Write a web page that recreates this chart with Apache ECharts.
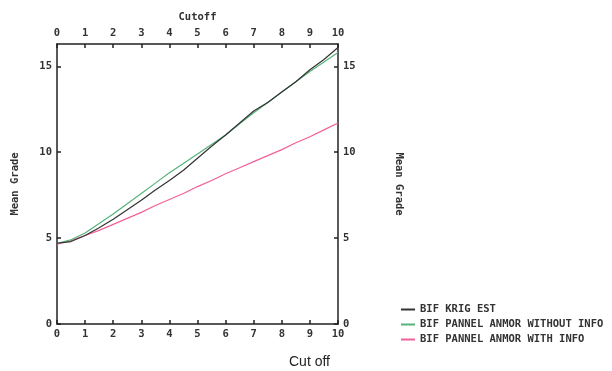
<!DOCTYPE html>
<html><head><meta charset="utf-8">
<script src="https://cdn.jsdelivr.net/npm/echarts@6/dist/echarts.min.js"></script>
<style>html,body{margin:0;padding:0;background:#fff}#c{width:612px;height:371px}</style>
</head><body><div id="c"></div>
<script>
const cutoff = [0,0.5,1,1.5,2,2.5,3,3.5,4,4.5,5,5.5,6,6.5,7,7.5,8,8.5,9,9.5,10];
const krigEst = [4.70,4.80,5.15,5.60,6.10,6.65,7.20,7.80,8.35,8.95,9.65,10.35,11.00,11.70,12.40,12.90,13.50,14.10,14.80,15.40,16.10];
const withoutInfo = [4.70,4.90,5.30,5.85,6.40,7.00,7.60,8.20,8.80,9.35,9.90,10.45,11.00,11.65,12.30,12.90,13.50,14.10,14.70,15.25,15.80];
const withInfo = [4.65,4.85,5.15,5.45,5.80,6.15,6.50,6.90,7.25,7.60,8.00,8.35,8.75,9.10,9.45,9.80,10.15,10.55,10.90,11.30,11.70];
const seriesNames = ['BIF KRIG EST','BIF PANNEL ANMOR WITHOUT INFO','BIF PANNEL ANMOR WITH INFO'];

const mono = 'DejaVu Sans Mono';
const txt = {fontFamily: mono, fontWeight: 'bold', fontSize: 10.5, color: '#333'};
const axLine = {show: true, onZero: false, lineStyle: {color: '#222', width: 1.5}};
const tick = {show: true, inside: true, length: 4, lineStyle: {color: '#222', width: 1.5}};

function pairs(ys){ return cutoff.map((x,i)=>[x, ys[i]]); }

const chart = echarts.init(document.getElementById('c'));
chart.setOption({
  animation: false,
  grid: {left: 57, right: 274, top: 44, bottom: 47},
  legend: {
    orient: 'vertical', left: 396, top: 299, itemGap: 4,
    itemWidth: 14, itemHeight: 2, icon: 'rect',
    textStyle: Object.assign({}, txt, {fontSize: 10.5}),
    data: seriesNames
  },
  xAxis: [
    {type: 'value', position: 'bottom', min: 0, max: 10, interval: 1,
     axisLine: axLine, axisTick: tick, splitLine: {show: false},
     axisLabel: Object.assign({margin: 5}, txt)},
    {type: 'value', position: 'top', min: 0, max: 10, interval: 1,
     name: 'Cutoff', nameLocation: 'middle', nameGap: 20,
     nameTextStyle: txt,
     axisLine: axLine, axisTick: tick, splitLine: {show: false},
     axisLabel: Object.assign({margin: 5}, txt)}
  ],
  yAxis: [
    {type: 'value', position: 'left', min: 0, max: 16.3, interval: 5,
     name: 'Mean Grade', nameLocation: 'middle', nameRotate: 90, nameGap: 36,
     nameTextStyle: txt,
     axisLine: axLine, axisTick: tick, splitLine: {show: false},
     axisLabel: Object.assign({margin: 5, showMaxLabel: false}, txt)},
    {type: 'value', position: 'right', min: 0, max: 16.3, interval: 5,
     name: 'Mean Grade', nameLocation: 'middle', nameRotate: -90, nameGap: 55,
     nameTextStyle: txt,
     axisLine: axLine, axisTick: tick, splitLine: {show: false},
     axisLabel: Object.assign({margin: 5, showMaxLabel: false}, txt)}
  ],
  graphic: [
    {type: 'text', left: 289, top: 355,
     style: {text: 'Cut off', fontFamily: 'Liberation Sans', fontSize: 14, fill: '#222'}}
  ],
  series: [
    {name: seriesNames[0], type: 'line', data: pairs(krigEst), showSymbol: false, symbol: 'none',
     lineStyle: {color: '#333', width: 1.2}, itemStyle: {color: '#333'}, z: 3},
    {name: seriesNames[1], type: 'line', data: pairs(withoutInfo), showSymbol: false, symbol: 'none',
     lineStyle: {color: '#55b37a', width: 1.2}, itemStyle: {color: '#55b37a'}, z: 2},
    {name: seriesNames[2], type: 'line', data: pairs(withInfo), showSymbol: false, symbol: 'none',
     lineStyle: {color: '#f2609a', width: 1.2}, itemStyle: {color: '#f2609a'}, z: 1}
  ]
});
</script></body></html>
